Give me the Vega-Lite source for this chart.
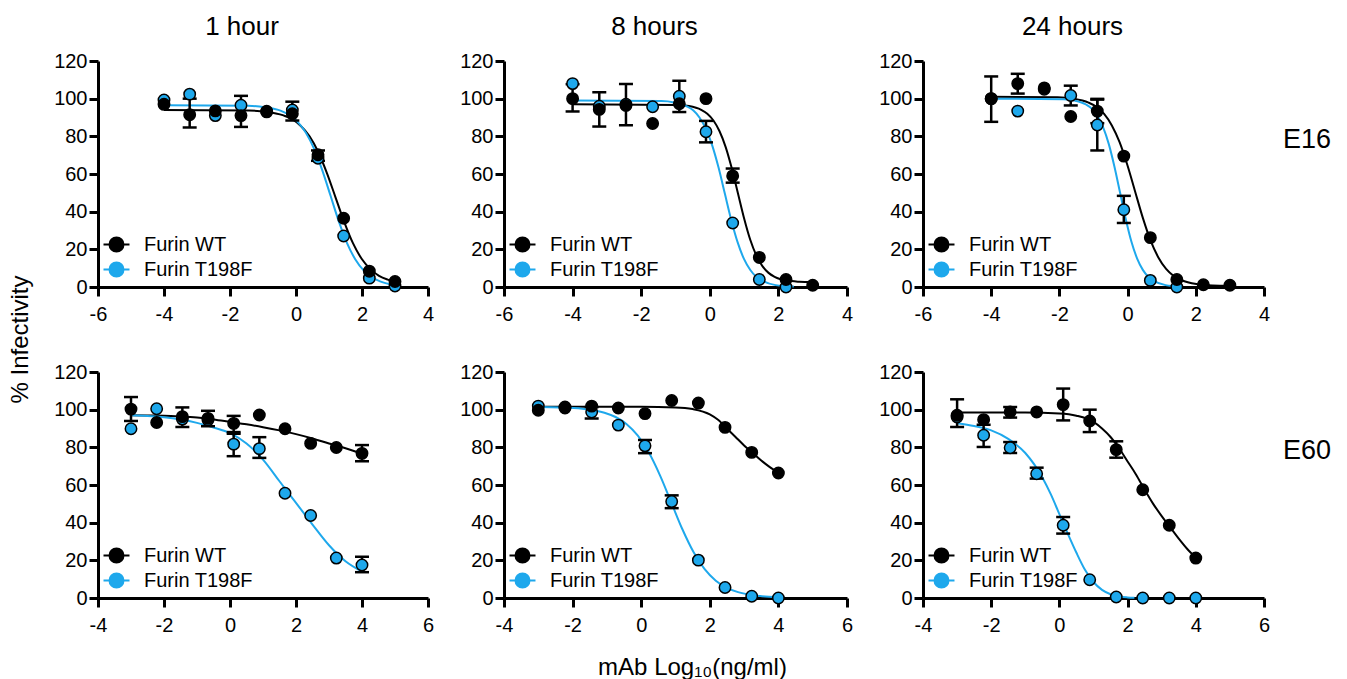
{
"$schema": "https://vega.github.io/schema/vega-lite/v6.json",
"padding": {"left": 8, "top": 14, "right": 5, "bottom": 0},
"background": "white",
"datasets": {
"pts": [
{"p":1,"s":"Furin T198F","x":-4,"y":99.3},{"p":1,"s":"Furin T198F","x":-3.222,"y":102.4},{"p":1,"s":"Furin T198F","x":-2.444,"y":91},{"p":1,"s":"Furin T198F","x":-1.667,"y":96.5},{"p":1,"s":"Furin T198F","x":-0.889,"y":93},{"p":1,"s":"Furin T198F","x":-0.111,"y":94},{"p":1,"s":"Furin T198F","x":0.667,"y":68.4},{"p":1,"s":"Furin T198F","x":1.444,"y":27.1},{"p":1,"s":"Furin T198F","x":2.222,"y":4.7},{"p":1,"s":"Furin T198F","x":3,"y":0.5},
{"p":1,"s":"Furin WT","x":-4,"y":97},{"p":1,"s":"Furin WT","x":-3.222,"y":91.5,"lo":84.7,"hi":100},{"p":1,"s":"Furin WT","x":-2.444,"y":93.5},{"p":1,"s":"Furin WT","x":-1.667,"y":91,"lo":85,"hi":101.5},{"p":1,"s":"Furin WT","x":-0.889,"y":93.3},{"p":1,"s":"Furin WT","x":-0.111,"y":92,"lo":88.4,"hi":98.4},{"p":1,"s":"Furin WT","x":0.667,"y":70.2,"lo":67,"hi":72.5},{"p":1,"s":"Furin WT","x":1.444,"y":36.5},{"p":1,"s":"Furin WT","x":2.222,"y":8.4},{"p":1,"s":"Furin WT","x":3,"y":2.9},
{"p":2,"s":"Furin T198F","x":-4,"y":108},{"p":2,"s":"Furin T198F","x":-3.222,"y":96},{"p":2,"s":"Furin T198F","x":-2.444,"y":97},{"p":2,"s":"Furin T198F","x":-1.667,"y":95.7},{"p":2,"s":"Furin T198F","x":-0.889,"y":101.3,"lo":92.9,"hi":109.5},{"p":2,"s":"Furin T198F","x":-0.111,"y":82.4,"lo":76.8,"hi":88.2},{"p":2,"s":"Furin T198F","x":0.667,"y":34},{"p":2,"s":"Furin T198F","x":1.444,"y":4},{"p":2,"s":"Furin T198F","x":2.222,"y":0},
{"p":2,"s":"Furin WT","x":-4,"y":100,"lo":93.2,"hi":107.7},{"p":2,"s":"Furin WT","x":-3.222,"y":94.3,"lo":85.2,"hi":103.4},{"p":2,"s":"Furin WT","x":-2.444,"y":96.4,"lo":85.9,"hi":107.8},{"p":2,"s":"Furin WT","x":-1.667,"y":86.8},{"p":2,"s":"Furin WT","x":-0.889,"y":97.3},{"p":2,"s":"Furin WT","x":-0.111,"y":100},{"p":2,"s":"Furin WT","x":0.667,"y":59,"lo":55.4,"hi":62.9},{"p":2,"s":"Furin WT","x":1.444,"y":15.7},{"p":2,"s":"Furin WT","x":2.222,"y":4},{"p":2,"s":"Furin WT","x":3,"y":0.9},
{"p":3,"s":"Furin T198F","x":-4,"y":100},{"p":3,"s":"Furin T198F","x":-3.222,"y":93.4},{"p":3,"s":"Furin T198F","x":-2.444,"y":105},{"p":3,"s":"Furin T198F","x":-1.667,"y":101.7,"lo":96.4,"hi":106.9},{"p":3,"s":"Furin T198F","x":-0.889,"y":86,"lo":72.5,"hi":99.5},{"p":3,"s":"Furin T198F","x":-0.111,"y":41,"lo":34,"hi":48.4},{"p":3,"s":"Furin T198F","x":0.667,"y":3.5},{"p":3,"s":"Furin T198F","x":1.444,"y":0},
{"p":3,"s":"Furin WT","x":-4,"y":100,"lo":87.7,"hi":111.8},{"p":3,"s":"Furin WT","x":-3.222,"y":108,"lo":102.7,"hi":113.2},{"p":3,"s":"Furin WT","x":-2.444,"y":105.7},{"p":3,"s":"Furin WT","x":-1.667,"y":90.5},{"p":3,"s":"Furin WT","x":-0.889,"y":93.4,"lo":87,"hi":99.9},{"p":3,"s":"Furin WT","x":-0.111,"y":69.5},{"p":3,"s":"Furin WT","x":0.667,"y":26.2},{"p":3,"s":"Furin WT","x":1.444,"y":4},{"p":3,"s":"Furin WT","x":2.222,"y":1.2},{"p":3,"s":"Furin WT","x":3,"y":0.9},
{"p":4,"s":"Furin T198F","x":-3,"y":89.9},{"p":4,"s":"Furin T198F","x":-2.222,"y":100.5},{"p":4,"s":"Furin T198F","x":-1.444,"y":95},{"p":4,"s":"Furin T198F","x":-0.667,"y":94.5},{"p":4,"s":"Furin T198F","x":0.111,"y":81.7,"lo":75.3,"hi":87.2},{"p":4,"s":"Furin T198F","x":0.889,"y":79.3,"lo":74.4,"hi":85.4},{"p":4,"s":"Furin T198F","x":1.667,"y":55.6},{"p":4,"s":"Furin T198F","x":2.444,"y":43.8},{"p":4,"s":"Furin T198F","x":3.222,"y":21.2},{"p":4,"s":"Furin T198F","x":4,"y":17.5,"lo":13.7,"hi":21.9},
{"p":4,"s":"Furin WT","x":-3,"y":100.3,"lo":94,"hi":106.7},{"p":4,"s":"Furin WT","x":-2.222,"y":93.2},{"p":4,"s":"Furin WT","x":-1.444,"y":96.3,"lo":90.8,"hi":101.2},{"p":4,"s":"Furin WT","x":-0.667,"y":95.4,"lo":91.2,"hi":99.4},{"p":4,"s":"Furin WT","x":0.111,"y":92.7,"lo":88.1,"hi":96.7},{"p":4,"s":"Furin WT","x":0.889,"y":97.2},{"p":4,"s":"Furin WT","x":1.667,"y":89.9},{"p":4,"s":"Furin WT","x":2.444,"y":82.1},{"p":4,"s":"Furin WT","x":3.222,"y":79.9},{"p":4,"s":"Furin WT","x":4,"y":76.8,"lo":72.6,"hi":81.2},
{"p":5,"s":"Furin T198F","x":-3,"y":101.9},{"p":5,"s":"Furin T198F","x":-2.222,"y":101.4},{"p":5,"s":"Furin T198F","x":-1.444,"y":98.8,"lo":95.3,"hi":101.4},{"p":5,"s":"Furin T198F","x":-0.667,"y":91.8},{"p":5,"s":"Furin T198F","x":0.111,"y":80.8,"lo":76.9,"hi":83.9},{"p":5,"s":"Furin T198F","x":0.889,"y":51.2,"lo":47.7,"hi":54.5},{"p":5,"s":"Furin T198F","x":1.667,"y":20.1},{"p":5,"s":"Furin T198F","x":2.444,"y":5.6},{"p":5,"s":"Furin T198F","x":3.222,"y":0.9},{"p":5,"s":"Furin T198F","x":4,"y":0},
{"p":5,"s":"Furin WT","x":-3,"y":99.7},{"p":5,"s":"Furin WT","x":-2.222,"y":100.9},{"p":5,"s":"Furin WT","x":-1.444,"y":101.9},{"p":5,"s":"Furin WT","x":-0.667,"y":100.9},{"p":5,"s":"Furin WT","x":0.111,"y":97.9},{"p":5,"s":"Furin WT","x":0.889,"y":104.9},{"p":5,"s":"Furin WT","x":1.667,"y":103.5},{"p":5,"s":"Furin WT","x":2.444,"y":90.6},{"p":5,"s":"Furin WT","x":3.222,"y":77.3},{"p":5,"s":"Furin WT","x":4,"y":66.4},
{"p":6,"s":"Furin T198F","x":-3,"y":96.1},{"p":6,"s":"Furin T198F","x":-2.222,"y":86.4,"lo":80.2,"hi":92},{"p":6,"s":"Furin T198F","x":-1.444,"y":79.8,"lo":77,"hi":82.8},{"p":6,"s":"Furin T198F","x":-0.667,"y":66,"lo":63.4,"hi":69.2},{"p":6,"s":"Furin T198F","x":0.111,"y":38.6,"lo":34.2,"hi":43},{"p":6,"s":"Furin T198F","x":0.889,"y":9.7},{"p":6,"s":"Furin T198F","x":1.667,"y":0.5},{"p":6,"s":"Furin T198F","x":2.444,"y":0},{"p":6,"s":"Furin T198F","x":3.222,"y":0},{"p":6,"s":"Furin T198F","x":4,"y":0},
{"p":6,"s":"Furin WT","x":-3,"y":97,"lo":90.8,"hi":105.5},{"p":6,"s":"Furin WT","x":-2.222,"y":94.7},{"p":6,"s":"Furin WT","x":-1.444,"y":98.8,"lo":95.8,"hi":101.4},{"p":6,"s":"Furin WT","x":-0.667,"y":98.8},{"p":6,"s":"Furin WT","x":0.111,"y":102.7,"lo":94.3,"hi":111.2},{"p":6,"s":"Furin WT","x":0.889,"y":94,"lo":88.1,"hi":100},{"p":6,"s":"Furin WT","x":1.667,"y":78.8,"lo":74.5,"hi":83.2},{"p":6,"s":"Furin WT","x":2.444,"y":57.5},{"p":6,"s":"Furin WT","x":3.222,"y":38.6},{"p":6,"s":"Furin WT","x":4,"y":21.2}
],
"curves": [
{"p":1,"s":"Furin WT","x":-4,"y":94},{"p":1,"s":"Furin WT","x":-1.432,"y":93.7},{"p":1,"s":"Furin WT","x":-0.905,"y":93.1},{"p":1,"s":"Furin WT","x":-0.379,"y":91.1},{"p":1,"s":"Furin WT","x":-0.116,"y":89.1},{"p":1,"s":"Furin WT","x":0.147,"y":85.5},{"p":1,"s":"Furin WT","x":0.411,"y":80},{"p":1,"s":"Furin WT","x":0.674,"y":71.7},{"p":1,"s":"Furin WT","x":0.937,"y":60.5},{"p":1,"s":"Furin WT","x":1.2,"y":47.5},{"p":1,"s":"Furin WT","x":1.463,"y":34.5},{"p":1,"s":"Furin WT","x":1.726,"y":23.3},{"p":1,"s":"Furin WT","x":1.989,"y":15},{"p":1,"s":"Furin WT","x":2.253,"y":9.5},{"p":1,"s":"Furin WT","x":2.516,"y":5.9},{"p":1,"s":"Furin WT","x":2.779,"y":3.9},{"p":1,"s":"Furin WT","x":3,"y":2.8},
{"p":1,"s":"Furin T198F","x":-4,"y":96.5},{"p":1,"s":"Furin T198F","x":-1.45,"y":96.2},{"p":1,"s":"Furin T198F","x":-0.95,"y":95.5},{"p":1,"s":"Furin T198F","x":-0.45,"y":93.5},{"p":1,"s":"Furin T198F","x":-0.2,"y":91.4},{"p":1,"s":"Furin T198F","x":0.05,"y":87.7},{"p":1,"s":"Furin T198F","x":0.3,"y":81.9},{"p":1,"s":"Furin T198F","x":0.55,"y":73.3},{"p":1,"s":"Furin T198F","x":0.8,"y":61.8},{"p":1,"s":"Furin T198F","x":1.05,"y":48.3},{"p":1,"s":"Furin T198F","x":1.3,"y":34.7},{"p":1,"s":"Furin T198F","x":1.55,"y":23.2},{"p":1,"s":"Furin T198F","x":1.8,"y":14.6},{"p":1,"s":"Furin T198F","x":2.05,"y":8.8},{"p":1,"s":"Furin T198F","x":2.3,"y":5.1},{"p":1,"s":"Furin T198F","x":2.55,"y":3},{"p":1,"s":"Furin T198F","x":3,"y":1},
{"p":2,"s":"Furin WT","x":-4,"y":97},{"p":2,"s":"Furin WT","x":-0.966,"y":96.7},{"p":2,"s":"Furin WT","x":-0.609,"y":96.1},{"p":2,"s":"Furin WT","x":-0.251,"y":94.1},{"p":2,"s":"Furin WT","x":-0.073,"y":92},{"p":2,"s":"Furin WT","x":0.106,"y":88.4},{"p":2,"s":"Furin WT","x":0.284,"y":82.7},{"p":2,"s":"Furin WT","x":0.463,"y":74.3},{"p":2,"s":"Furin WT","x":0.641,"y":63},{"p":2,"s":"Furin WT","x":0.82,"y":49.75},{"p":2,"s":"Furin WT","x":0.999,"y":36.5},{"p":2,"s":"Furin WT","x":1.177,"y":25.2},{"p":2,"s":"Furin WT","x":1.356,"y":16.8},{"p":2,"s":"Furin WT","x":1.534,"y":11.1},{"p":2,"s":"Furin WT","x":1.713,"y":7.5},{"p":2,"s":"Furin WT","x":1.891,"y":5.4},{"p":2,"s":"Furin WT","x":2.249,"y":3.4},{"p":2,"s":"Furin WT","x":2.606,"y":2.8},{"p":2,"s":"Furin WT","x":3,"y":2.6},
{"p":2,"s":"Furin T198F","x":-4,"y":99},{"p":2,"s":"Furin T198F","x":-1.412,"y":98.7},{"p":2,"s":"Furin T198F","x":-1.041,"y":98},{"p":2,"s":"Furin T198F","x":-0.671,"y":95.9},{"p":2,"s":"Furin T198F","x":-0.486,"y":93.8},{"p":2,"s":"Furin T198F","x":-0.301,"y":90},{"p":2,"s":"Furin T198F","x":-0.116,"y":84.1},{"p":2,"s":"Furin T198F","x":0.07,"y":75.2},{"p":2,"s":"Furin T198F","x":0.255,"y":63.4},{"p":2,"s":"Furin T198F","x":0.44,"y":49.5},{"p":2,"s":"Furin T198F","x":0.625,"y":35.6},{"p":2,"s":"Furin T198F","x":0.81,"y":23.8},{"p":2,"s":"Furin T198F","x":0.996,"y":14.9},{"p":2,"s":"Furin T198F","x":1.181,"y":9},{"p":2,"s":"Furin T198F","x":1.366,"y":5.2},{"p":2,"s":"Furin T198F","x":1.551,"y":3.1},{"p":2,"s":"Furin T198F","x":1.921,"y":1},{"p":2,"s":"Furin T198F","x":2.45,"y":0.2},
{"p":3,"s":"Furin WT","x":-4,"y":101},{"p":3,"s":"Furin WT","x":-2.053,"y":100.7},{"p":3,"s":"Furin WT","x":-1.598,"y":100},{"p":3,"s":"Furin WT","x":-1.144,"y":97.9},{"p":3,"s":"Furin WT","x":-0.916,"y":95.7},{"p":3,"s":"Furin WT","x":-0.689,"y":91.9},{"p":3,"s":"Furin WT","x":-0.462,"y":85.8},{"p":3,"s":"Furin WT","x":-0.235,"y":76.9},{"p":3,"s":"Furin WT","x":-0.007,"y":64.8},{"p":3,"s":"Furin WT","x":0.22,"y":50.75},{"p":3,"s":"Furin WT","x":0.447,"y":36.7},{"p":3,"s":"Furin WT","x":0.675,"y":24.6},{"p":3,"s":"Furin WT","x":0.902,"y":15.7},{"p":3,"s":"Furin WT","x":1.129,"y":9.6},{"p":3,"s":"Furin WT","x":1.356,"y":5.8},{"p":3,"s":"Furin WT","x":1.584,"y":3.6},{"p":3,"s":"Furin WT","x":2.038,"y":1.5},{"p":3,"s":"Furin WT","x":2.493,"y":0.8},{"p":3,"s":"Furin WT","x":3,"y":0.6},
{"p":3,"s":"Furin T198F","x":-4,"y":100},{"p":3,"s":"Furin T198F","x":-1.887,"y":99.7},{"p":3,"s":"Furin T198F","x":-1.553,"y":99},{"p":3,"s":"Furin T198F","x":-1.22,"y":96.9},{"p":3,"s":"Furin T198F","x":-1.053,"y":94.7},{"p":3,"s":"Furin T198F","x":-0.887,"y":90.9},{"p":3,"s":"Furin T198F","x":-0.72,"y":84.9},{"p":3,"s":"Furin T198F","x":-0.553,"y":76},{"p":3,"s":"Furin T198F","x":-0.387,"y":64},{"p":3,"s":"Furin T198F","x":-0.22,"y":50},{"p":3,"s":"Furin T198F","x":-0.053,"y":36},{"p":3,"s":"Furin T198F","x":0.113,"y":24},{"p":3,"s":"Furin T198F","x":0.28,"y":15.1},{"p":3,"s":"Furin T198F","x":0.447,"y":9.1},{"p":3,"s":"Furin T198F","x":0.613,"y":5.3},{"p":3,"s":"Furin T198F","x":0.78,"y":3.1},{"p":3,"s":"Furin T198F","x":1.113,"y":1},{"p":3,"s":"Furin T198F","x":1.55,"y":0.2},
{"p":4,"s":"Furin WT","x":-3,"y":97},{"p":4,"s":"Furin WT","x":-2.5,"y":96.9},{"p":4,"s":"Furin WT","x":-2,"y":96.8},{"p":4,"s":"Furin WT","x":-1.5,"y":96.4},{"p":4,"s":"Furin WT","x":-1,"y":95.8},{"p":4,"s":"Furin WT","x":-0.5,"y":94.8},{"p":4,"s":"Furin WT","x":0,"y":93.5},{"p":4,"s":"Furin WT","x":0.5,"y":92.2},{"p":4,"s":"Furin WT","x":1,"y":90.7},{"p":4,"s":"Furin WT","x":1.5,"y":89},{"p":4,"s":"Furin WT","x":2,"y":87},{"p":4,"s":"Furin WT","x":2.5,"y":84.7},{"p":4,"s":"Furin WT","x":3,"y":82},{"p":4,"s":"Furin WT","x":3.5,"y":79.5},{"p":4,"s":"Furin WT","x":4,"y":76.5},
{"p":4,"s":"Furin T198F","x":-3,"y":97},{"p":4,"s":"Furin T198F","x":-2.5,"y":96.7},{"p":4,"s":"Furin T198F","x":-2,"y":96},{"p":4,"s":"Furin T198F","x":-1.5,"y":94.8},{"p":4,"s":"Furin T198F","x":-1,"y":93},{"p":4,"s":"Furin T198F","x":-0.5,"y":90.5},{"p":4,"s":"Furin T198F","x":0,"y":87.5},{"p":4,"s":"Furin T198F","x":0.5,"y":82},{"p":4,"s":"Furin T198F","x":1,"y":73.5},{"p":4,"s":"Furin T198F","x":1.5,"y":62},{"p":4,"s":"Furin T198F","x":2,"y":50.5},{"p":4,"s":"Furin T198F","x":2.5,"y":39},{"p":4,"s":"Furin T198F","x":3,"y":28},{"p":4,"s":"Furin T198F","x":3.5,"y":19.5},{"p":4,"s":"Furin T198F","x":4,"y":14},
{"p":5,"s":"Furin WT","x":-3,"y":101.5},{"p":5,"s":"Furin WT","x":0,"y":101.5},{"p":5,"s":"Furin WT","x":1,"y":101.2},{"p":5,"s":"Furin WT","x":1.5,"y":100.3},{"p":5,"s":"Furin WT","x":2,"y":97.5},{"p":5,"s":"Furin WT","x":2.25,"y":94.5},{"p":5,"s":"Furin WT","x":2.5,"y":90},{"p":5,"s":"Furin WT","x":2.75,"y":85.5},{"p":5,"s":"Furin WT","x":3,"y":81},{"p":5,"s":"Furin WT","x":3.25,"y":77},{"p":5,"s":"Furin WT","x":3.5,"y":73},{"p":5,"s":"Furin WT","x":3.75,"y":69.5},{"p":5,"s":"Furin WT","x":4,"y":66.5},
{"p":5,"s":"Furin T198F","x":-3,"y":101.4},{"p":5,"s":"Furin T198F","x":-2.371,"y":101.2},{"p":5,"s":"Furin T198F","x":-1.721,"y":100.5},{"p":5,"s":"Furin T198F","x":-1.072,"y":98.4},{"p":5,"s":"Furin T198F","x":-0.747,"y":96.1},{"p":5,"s":"Furin T198F","x":-0.423,"y":92.3},{"p":5,"s":"Furin T198F","x":-0.098,"y":86.2},{"p":5,"s":"Furin T198F","x":0.227,"y":77.1},{"p":5,"s":"Furin T198F","x":0.551,"y":65},{"p":5,"s":"Furin T198F","x":0.876,"y":50.75},{"p":5,"s":"Furin T198F","x":1.201,"y":36.5},{"p":5,"s":"Furin T198F","x":1.525,"y":24.4},{"p":5,"s":"Furin T198F","x":1.85,"y":15.3},{"p":5,"s":"Furin T198F","x":2.175,"y":9.2},{"p":5,"s":"Furin T198F","x":2.499,"y":5.4},{"p":5,"s":"Furin T198F","x":2.824,"y":3.1},{"p":5,"s":"Furin T198F","x":3.473,"y":1},{"p":5,"s":"Furin T198F","x":4,"y":0.4},
{"p":6,"s":"Furin WT","x":-3,"y":98.5},{"p":6,"s":"Furin WT","x":-1,"y":98.5},{"p":6,"s":"Furin WT","x":0,"y":98},{"p":6,"s":"Furin WT","x":0.5,"y":96.8},{"p":6,"s":"Furin WT","x":1,"y":93.5},{"p":6,"s":"Furin WT","x":1.25,"y":90},{"p":6,"s":"Furin WT","x":1.5,"y":85.5},{"p":6,"s":"Furin WT","x":1.75,"y":79.5},{"p":6,"s":"Furin WT","x":2,"y":72.5},{"p":6,"s":"Furin WT","x":2.25,"y":65.5},{"p":6,"s":"Furin WT","x":2.5,"y":57.5},{"p":6,"s":"Furin WT","x":2.75,"y":50},{"p":6,"s":"Furin WT","x":3,"y":43.5},{"p":6,"s":"Furin WT","x":3.25,"y":37.5},{"p":6,"s":"Furin WT","x":3.5,"y":31.5},{"p":6,"s":"Furin WT","x":3.75,"y":26},{"p":6,"s":"Furin WT","x":4,"y":21.5},
{"p":6,"s":"Furin T198F","x":-3,"y":92.8},{"p":6,"s":"Furin T198F","x":-2.5,"y":91.3},{"p":6,"s":"Furin T198F","x":-2,"y":89},{"p":6,"s":"Furin T198F","x":-1.5,"y":84.5},{"p":6,"s":"Furin T198F","x":-1,"y":77},{"p":6,"s":"Furin T198F","x":-0.5,"y":64},{"p":6,"s":"Furin T198F","x":-0.25,"y":55},{"p":6,"s":"Furin T198F","x":0,"y":44.5},{"p":6,"s":"Furin T198F","x":0.25,"y":34},{"p":6,"s":"Furin T198F","x":0.5,"y":24},{"p":6,"s":"Furin T198F","x":0.75,"y":15},{"p":6,"s":"Furin T198F","x":1,"y":8.5},{"p":6,"s":"Furin T198F","x":1.25,"y":4.3},{"p":6,"s":"Furin T198F","x":1.5,"y":2},{"p":6,"s":"Furin T198F","x":1.75,"y":0.8},{"p":6,"s":"Furin T198F","x":2,"y":0.3},{"p":6,"s":"Furin T198F","x":2.2,"y":0.1}
]
},
"columns": 3,
"spacing": {"row": 85, "column": 76},
"bounds": "flush",
"resolve": {"scale": {"fill": "independent", "stroke": "independent"}, "legend": {"fill": "independent", "stroke": "independent"}},
"concat": [
{"width": 330, "height": 226, "title": {"text": "1 hour"},
 "layer": [
  {"data": {"name": "curves"}, "transform": [{"filter": "datum.p == 1"}], "mark": {"type": "line", "interpolate": "monotone", "strokeWidth": 2},
   "encoding": {"x": {"field": "x", "type": "quantitative", "scale": {"domain": [-6, 4], "nice": false, "zero": false}, "axis": {"values": [-6, -4, -2, 0, 2, 4], "labelExpr": "datum.value + ''", "title": null}},
    "y": {"field": "y", "type": "quantitative", "scale": {"domain": [0, 120], "nice": false, "zero": false}, "axis": {"values": [0, 20, 40, 60, 80, 100, 120], "title": "% Infectivity", "titleFontSize": 24, "titleX": -66, "titleY": 278}},
    "stroke": {"field": "s", "type": "nominal", "scale": {"domain": ["Furin WT", "Furin T198F"], "range": ["#000000", "#1EA8EC"]}, "legend": {"title": null, "orient": "bottom-left", "offset": 6, "padding": 0, "symbolType": "M-1.13,0L-0.61,0M0.61,0L1.13,0M-0.61,0A0.61,0.61,0,1,0,0.61,0A0.61,0.61,0,1,0,-0.61,0Z", "symbolSize": 529, "symbolStrokeWidth": 2, "labelFontSize": 20, "labelOffset": 15, "rowPadding": 1, "labelColor": "black"}}}},
  {"data": {"name": "pts"}, "transform": [{"filter": "datum.p == 1 && isValid(datum.lo)"}], "mark": {"type": "rule", "color": "black", "strokeWidth": 2.5},
   "encoding": {"x": {"field": "x", "type": "quantitative"}, "y": {"field": "lo", "type": "quantitative"}, "y2": {"field": "hi"}}},
  {"data": {"name": "pts"}, "transform": [{"filter": "datum.p == 1 && isValid(datum.lo)"}, {"fold": ["lo", "hi"], "as": ["k", "v"]}], "mark": {"type": "tick", "orient": "horizontal", "size": 14, "thickness": 2.5, "color": "black", "opacity": 1},
   "encoding": {"x": {"field": "x", "type": "quantitative"}, "y": {"field": "v", "type": "quantitative"}}},
  {"data": {"name": "pts"}, "transform": [{"filter": "datum.p == 1"}], "mark": {"type": "point", "shape": "circle", "filled": true, "size": 130, "stroke": "black", "strokeWidth": 1.5, "opacity": 1},
   "encoding": {"x": {"field": "x", "type": "quantitative"}, "y": {"field": "y", "type": "quantitative"},
    "fill": {"field": "s", "type": "nominal", "scale": {"domain": ["Furin WT", "Furin T198F"], "range": ["#000000", "#1EA8EC"]}, "legend": {"title": null, "orient": "bottom-left", "offset": 6, "padding": 0, "symbolType": "M-1.13,0L-0.61,0M0.61,0L1.13,0M-0.61,0A0.61,0.61,0,1,0,0.61,0A0.61,0.61,0,1,0,-0.61,0Z", "symbolSize": 529, "symbolStrokeWidth": 2, "labelFontSize": 20, "labelOffset": 15, "rowPadding": 1, "labelColor": "black"}}}}
 ]},
{"width": 343, "height": 226, "title": {"text": "8 hours"},
 "layer": [
  {"data": {"name": "curves"}, "transform": [{"filter": "datum.p == 2"}], "mark": {"type": "line", "interpolate": "monotone", "strokeWidth": 2},
   "encoding": {"x": {"field": "x", "type": "quantitative", "scale": {"domain": [-6, 4], "nice": false, "zero": false}, "axis": {"values": [-6, -4, -2, 0, 2, 4], "labelExpr": "datum.value + ''", "title": null}},
    "y": {"field": "y", "type": "quantitative", "scale": {"domain": [0, 120], "nice": false, "zero": false}, "axis": {"values": [0, 20, 40, 60, 80, 100, 120], "title": null}},
    "stroke": {"field": "s", "type": "nominal", "scale": {"domain": ["Furin WT", "Furin T198F"], "range": ["#000000", "#1EA8EC"]}, "legend": {"title": null, "orient": "bottom-left", "offset": 6, "padding": 0, "symbolType": "M-1.13,0L-0.61,0M0.61,0L1.13,0M-0.61,0A0.61,0.61,0,1,0,0.61,0A0.61,0.61,0,1,0,-0.61,0Z", "symbolSize": 529, "symbolStrokeWidth": 2, "labelFontSize": 20, "labelOffset": 15, "rowPadding": 1, "labelColor": "black"}}}},
  {"data": {"name": "pts"}, "transform": [{"filter": "datum.p == 2 && isValid(datum.lo)"}], "mark": {"type": "rule", "color": "black", "strokeWidth": 2.5},
   "encoding": {"x": {"field": "x", "type": "quantitative"}, "y": {"field": "lo", "type": "quantitative"}, "y2": {"field": "hi"}}},
  {"data": {"name": "pts"}, "transform": [{"filter": "datum.p == 2 && isValid(datum.lo)"}, {"fold": ["lo", "hi"], "as": ["k", "v"]}], "mark": {"type": "tick", "orient": "horizontal", "size": 14, "thickness": 2.5, "color": "black", "opacity": 1},
   "encoding": {"x": {"field": "x", "type": "quantitative"}, "y": {"field": "v", "type": "quantitative"}}},
  {"data": {"name": "pts"}, "transform": [{"filter": "datum.p == 2"}], "mark": {"type": "point", "shape": "circle", "filled": true, "size": 130, "stroke": "black", "strokeWidth": 1.5, "opacity": 1},
   "encoding": {"x": {"field": "x", "type": "quantitative"}, "y": {"field": "y", "type": "quantitative"},
    "fill": {"field": "s", "type": "nominal", "scale": {"domain": ["Furin WT", "Furin T198F"], "range": ["#000000", "#1EA8EC"]}, "legend": {"title": null, "orient": "bottom-left", "offset": 6, "padding": 0, "symbolType": "M-1.13,0L-0.61,0M0.61,0L1.13,0M-0.61,0A0.61,0.61,0,1,0,0.61,0A0.61,0.61,0,1,0,-0.61,0Z", "symbolSize": 529, "symbolStrokeWidth": 2, "labelFontSize": 20, "labelOffset": 15, "rowPadding": 1, "labelColor": "black"}}}}
 ]},
{"width": 341, "height": 226, "title": {"text": "24 hours"},
 "layer": [
  {"data": {"name": "curves"}, "transform": [{"filter": "datum.p == 3"}], "mark": {"type": "line", "interpolate": "monotone", "strokeWidth": 2},
   "encoding": {"x": {"field": "x", "type": "quantitative", "scale": {"domain": [-6, 4], "nice": false, "zero": false}, "axis": {"values": [-6, -4, -2, 0, 2, 4], "labelExpr": "datum.value + ''", "title": null}},
    "y": {"field": "y", "type": "quantitative", "scale": {"domain": [0, 120], "nice": false, "zero": false}, "axis": {"values": [0, 20, 40, 60, 80, 100, 120], "title": null}},
    "stroke": {"field": "s", "type": "nominal", "scale": {"domain": ["Furin WT", "Furin T198F"], "range": ["#000000", "#1EA8EC"]}, "legend": {"title": null, "orient": "bottom-left", "offset": 6, "padding": 0, "symbolType": "M-1.13,0L-0.61,0M0.61,0L1.13,0M-0.61,0A0.61,0.61,0,1,0,0.61,0A0.61,0.61,0,1,0,-0.61,0Z", "symbolSize": 529, "symbolStrokeWidth": 2, "labelFontSize": 20, "labelOffset": 15, "rowPadding": 1, "labelColor": "black"}}}},
  {"data": {"name": "pts"}, "transform": [{"filter": "datum.p == 3 && isValid(datum.lo)"}], "mark": {"type": "rule", "color": "black", "strokeWidth": 2.5},
   "encoding": {"x": {"field": "x", "type": "quantitative"}, "y": {"field": "lo", "type": "quantitative"}, "y2": {"field": "hi"}}},
  {"data": {"name": "pts"}, "transform": [{"filter": "datum.p == 3 && isValid(datum.lo)"}, {"fold": ["lo", "hi"], "as": ["k", "v"]}], "mark": {"type": "tick", "orient": "horizontal", "size": 14, "thickness": 2.5, "color": "black", "opacity": 1},
   "encoding": {"x": {"field": "x", "type": "quantitative"}, "y": {"field": "v", "type": "quantitative"}}},
  {"data": {"name": "pts"}, "transform": [{"filter": "datum.p == 3"}], "mark": {"type": "point", "shape": "circle", "filled": true, "size": 130, "stroke": "black", "strokeWidth": 1.5, "opacity": 1},
   "encoding": {"x": {"field": "x", "type": "quantitative"}, "y": {"field": "y", "type": "quantitative"},
    "fill": {"field": "s", "type": "nominal", "scale": {"domain": ["Furin WT", "Furin T198F"], "range": ["#000000", "#1EA8EC"]}, "legend": {"title": null, "orient": "bottom-left", "offset": 6, "padding": 0, "symbolType": "M-1.13,0L-0.61,0M0.61,0L1.13,0M-0.61,0A0.61,0.61,0,1,0,0.61,0A0.61,0.61,0,1,0,-0.61,0Z", "symbolSize": 529, "symbolStrokeWidth": 2, "labelFontSize": 20, "labelOffset": 15, "rowPadding": 1, "labelColor": "black"}}}},
  {"data": {"values": [{"t": "E16"}]}, "mark": {"type": "text", "fontSize": 27, "color": "black", "align": "center", "baseline": "middle"},
   "encoding": {"x": {"datum": 5.26, "type": "quantitative"}, "y": {"datum": 78, "type": "quantitative"}, "text": {"field": "t"}}}
 ]},
{"width": 330, "height": 226,
 "layer": [
  {"data": {"name": "curves"}, "transform": [{"filter": "datum.p == 4"}], "mark": {"type": "line", "interpolate": "monotone", "strokeWidth": 2},
   "encoding": {"x": {"field": "x", "type": "quantitative", "scale": {"domain": [-4, 6], "nice": false, "zero": false}, "axis": {"values": [-4, -2, 0, 2, 4, 6], "labelExpr": "datum.value + ''", "title": null}},
    "y": {"field": "y", "type": "quantitative", "scale": {"domain": [0, 120], "nice": false, "zero": false}, "axis": {"values": [0, 20, 40, 60, 80, 100, 120], "title": null}},
    "stroke": {"field": "s", "type": "nominal", "scale": {"domain": ["Furin WT", "Furin T198F"], "range": ["#000000", "#1EA8EC"]}, "legend": {"title": null, "orient": "bottom-left", "offset": 6, "padding": 0, "symbolType": "M-1.13,0L-0.61,0M0.61,0L1.13,0M-0.61,0A0.61,0.61,0,1,0,0.61,0A0.61,0.61,0,1,0,-0.61,0Z", "symbolSize": 529, "symbolStrokeWidth": 2, "labelFontSize": 20, "labelOffset": 15, "rowPadding": 1, "labelColor": "black"}}}},
  {"data": {"name": "pts"}, "transform": [{"filter": "datum.p == 4 && isValid(datum.lo)"}], "mark": {"type": "rule", "color": "black", "strokeWidth": 2.5},
   "encoding": {"x": {"field": "x", "type": "quantitative"}, "y": {"field": "lo", "type": "quantitative"}, "y2": {"field": "hi"}}},
  {"data": {"name": "pts"}, "transform": [{"filter": "datum.p == 4 && isValid(datum.lo)"}, {"fold": ["lo", "hi"], "as": ["k", "v"]}], "mark": {"type": "tick", "orient": "horizontal", "size": 14, "thickness": 2.5, "color": "black", "opacity": 1},
   "encoding": {"x": {"field": "x", "type": "quantitative"}, "y": {"field": "v", "type": "quantitative"}}},
  {"data": {"name": "pts"}, "transform": [{"filter": "datum.p == 4"}], "mark": {"type": "point", "shape": "circle", "filled": true, "size": 130, "stroke": "black", "strokeWidth": 1.5, "opacity": 1},
   "encoding": {"x": {"field": "x", "type": "quantitative"}, "y": {"field": "y", "type": "quantitative"},
    "fill": {"field": "s", "type": "nominal", "scale": {"domain": ["Furin WT", "Furin T198F"], "range": ["#000000", "#1EA8EC"]}, "legend": {"title": null, "orient": "bottom-left", "offset": 6, "padding": 0, "symbolType": "M-1.13,0L-0.61,0M0.61,0L1.13,0M-0.61,0A0.61,0.61,0,1,0,0.61,0A0.61,0.61,0,1,0,-0.61,0Z", "symbolSize": 529, "symbolStrokeWidth": 2, "labelFontSize": 20, "labelOffset": 15, "rowPadding": 1, "labelColor": "black"}}}}
 ]},
{"width": 343, "height": 226,
 "layer": [
  {"data": {"name": "curves"}, "transform": [{"filter": "datum.p == 5"}], "mark": {"type": "line", "interpolate": "monotone", "strokeWidth": 2},
   "encoding": {"x": {"field": "x", "type": "quantitative", "scale": {"domain": [-4, 6], "nice": false, "zero": false}, "axis": {"values": [-4, -2, 0, 2, 4, 6], "labelExpr": "datum.value + ''", "title": "mAb Log₁₀(ng/ml)", "titleFontSize": 24, "titleX": 188, "titleY": 76, "titleBaseline": "alphabetic"}},
    "y": {"field": "y", "type": "quantitative", "scale": {"domain": [0, 120], "nice": false, "zero": false}, "axis": {"values": [0, 20, 40, 60, 80, 100, 120], "title": null}},
    "stroke": {"field": "s", "type": "nominal", "scale": {"domain": ["Furin WT", "Furin T198F"], "range": ["#000000", "#1EA8EC"]}, "legend": {"title": null, "orient": "bottom-left", "offset": 6, "padding": 0, "symbolType": "M-1.13,0L-0.61,0M0.61,0L1.13,0M-0.61,0A0.61,0.61,0,1,0,0.61,0A0.61,0.61,0,1,0,-0.61,0Z", "symbolSize": 529, "symbolStrokeWidth": 2, "labelFontSize": 20, "labelOffset": 15, "rowPadding": 1, "labelColor": "black"}}}},
  {"data": {"name": "pts"}, "transform": [{"filter": "datum.p == 5 && isValid(datum.lo)"}], "mark": {"type": "rule", "color": "black", "strokeWidth": 2.5},
   "encoding": {"x": {"field": "x", "type": "quantitative"}, "y": {"field": "lo", "type": "quantitative"}, "y2": {"field": "hi"}}},
  {"data": {"name": "pts"}, "transform": [{"filter": "datum.p == 5 && isValid(datum.lo)"}, {"fold": ["lo", "hi"], "as": ["k", "v"]}], "mark": {"type": "tick", "orient": "horizontal", "size": 14, "thickness": 2.5, "color": "black", "opacity": 1},
   "encoding": {"x": {"field": "x", "type": "quantitative"}, "y": {"field": "v", "type": "quantitative"}}},
  {"data": {"name": "pts"}, "transform": [{"filter": "datum.p == 5"}], "mark": {"type": "point", "shape": "circle", "filled": true, "size": 130, "stroke": "black", "strokeWidth": 1.5, "opacity": 1},
   "encoding": {"x": {"field": "x", "type": "quantitative"}, "y": {"field": "y", "type": "quantitative"},
    "fill": {"field": "s", "type": "nominal", "scale": {"domain": ["Furin WT", "Furin T198F"], "range": ["#000000", "#1EA8EC"]}, "legend": {"title": null, "orient": "bottom-left", "offset": 6, "padding": 0, "symbolType": "M-1.13,0L-0.61,0M0.61,0L1.13,0M-0.61,0A0.61,0.61,0,1,0,0.61,0A0.61,0.61,0,1,0,-0.61,0Z", "symbolSize": 529, "symbolStrokeWidth": 2, "labelFontSize": 20, "labelOffset": 15, "rowPadding": 1, "labelColor": "black"}}}}
 ]},
{"width": 341, "height": 226,
 "layer": [
  {"data": {"name": "curves"}, "transform": [{"filter": "datum.p == 6"}], "mark": {"type": "line", "interpolate": "monotone", "strokeWidth": 2},
   "encoding": {"x": {"field": "x", "type": "quantitative", "scale": {"domain": [-4, 6], "nice": false, "zero": false}, "axis": {"values": [-4, -2, 0, 2, 4, 6], "labelExpr": "datum.value + ''", "title": null}},
    "y": {"field": "y", "type": "quantitative", "scale": {"domain": [0, 120], "nice": false, "zero": false}, "axis": {"values": [0, 20, 40, 60, 80, 100, 120], "title": null}},
    "stroke": {"field": "s", "type": "nominal", "scale": {"domain": ["Furin WT", "Furin T198F"], "range": ["#000000", "#1EA8EC"]}, "legend": {"title": null, "orient": "bottom-left", "offset": 6, "padding": 0, "symbolType": "M-1.13,0L-0.61,0M0.61,0L1.13,0M-0.61,0A0.61,0.61,0,1,0,0.61,0A0.61,0.61,0,1,0,-0.61,0Z", "symbolSize": 529, "symbolStrokeWidth": 2, "labelFontSize": 20, "labelOffset": 15, "rowPadding": 1, "labelColor": "black"}}}},
  {"data": {"name": "pts"}, "transform": [{"filter": "datum.p == 6 && isValid(datum.lo)"}], "mark": {"type": "rule", "color": "black", "strokeWidth": 2.5},
   "encoding": {"x": {"field": "x", "type": "quantitative"}, "y": {"field": "lo", "type": "quantitative"}, "y2": {"field": "hi"}}},
  {"data": {"name": "pts"}, "transform": [{"filter": "datum.p == 6 && isValid(datum.lo)"}, {"fold": ["lo", "hi"], "as": ["k", "v"]}], "mark": {"type": "tick", "orient": "horizontal", "size": 14, "thickness": 2.5, "color": "black", "opacity": 1},
   "encoding": {"x": {"field": "x", "type": "quantitative"}, "y": {"field": "v", "type": "quantitative"}}},
  {"data": {"name": "pts"}, "transform": [{"filter": "datum.p == 6"}], "mark": {"type": "point", "shape": "circle", "filled": true, "size": 130, "stroke": "black", "strokeWidth": 1.5, "opacity": 1},
   "encoding": {"x": {"field": "x", "type": "quantitative"}, "y": {"field": "y", "type": "quantitative"},
    "fill": {"field": "s", "type": "nominal", "scale": {"domain": ["Furin WT", "Furin T198F"], "range": ["#000000", "#1EA8EC"]}, "legend": {"title": null, "orient": "bottom-left", "offset": 6, "padding": 0, "symbolType": "M-1.13,0L-0.61,0M0.61,0L1.13,0M-0.61,0A0.61,0.61,0,1,0,0.61,0A0.61,0.61,0,1,0,-0.61,0Z", "symbolSize": 529, "symbolStrokeWidth": 2, "labelFontSize": 20, "labelOffset": 15, "rowPadding": 1, "labelColor": "black"}}}},
  {"data": {"values": [{"t": "E60"}]}, "mark": {"type": "text", "fontSize": 27, "color": "black", "align": "center", "baseline": "middle"},
   "encoding": {"x": {"datum": 7.26, "type": "quantitative"}, "y": {"datum": 78.2, "type": "quantitative"}, "text": {"field": "t"}}}
 ]}
],
"config": {
 "font": "Liberation Sans",
 "view": {"stroke": null},
 "axis": {"domainColor": "black", "domainWidth": 3, "tickColor": "black", "tickWidth": 3, "tickSize": 9, "labelFontSize": 20, "labelColor": "black", "grid": false, "labelFlush": false, "labelOverlap": false, "titleFontWeight": "normal", "titleColor": "black"},
 "axisX": {"labelPadding": 8, "tickCount": 6},
 "axisY": {"labelPadding": 2, "tickCount": 7},
 "title": {"fontSize": 26, "fontWeight": "normal", "color": "black", "offset": 11, "anchor": "middle", "frame": "group", "dx": -21}
}
}
